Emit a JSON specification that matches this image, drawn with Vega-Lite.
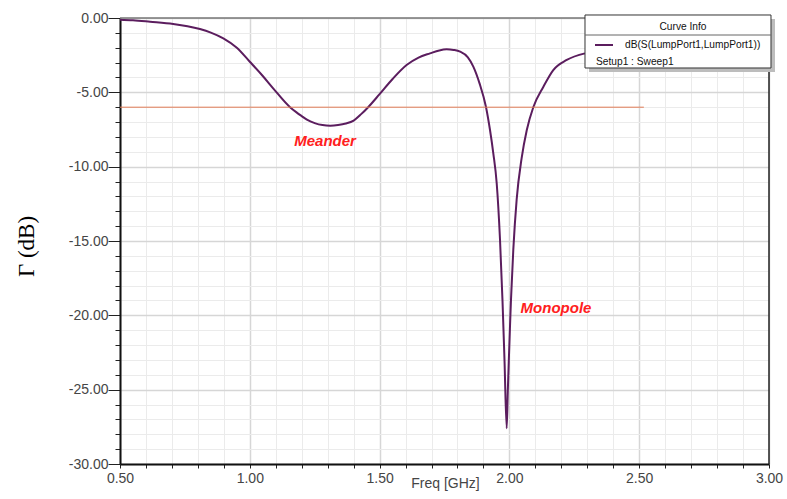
{
  "$schema": "https://vega.github.io/schema/vega-lite/v6.json",
  "width": 649,
  "height": 446,
  "autosize": {"type": "none"},
  "padding": {"left": 120, "top": 18, "right": 18, "bottom": 35},
  "background": "white",
  "config": {"view": {"stroke": null}, "font": "Liberation Sans"},
  "resolve": {"axis": {"x": "independent", "y": "independent"}},
  "datasets": {
    "s11": [
      {"freq_ghz": 0.50, "gamma_db": -0.11},
      {"freq_ghz": 0.55, "gamma_db": -0.15},
      {"freq_ghz": 0.616, "gamma_db": -0.25},
      {"freq_ghz": 0.705, "gamma_db": -0.40},
      {"freq_ghz": 0.76, "gamma_db": -0.55},
      {"freq_ghz": 0.808, "gamma_db": -0.74},
      {"freq_ghz": 0.85, "gamma_db": -0.98},
      {"freq_ghz": 0.898, "gamma_db": -1.37},
      {"freq_ghz": 0.95, "gamma_db": -2.0},
      {"freq_ghz": 1.00, "gamma_db": -2.94},
      {"freq_ghz": 1.05, "gamma_db": -3.9},
      {"freq_ghz": 1.09, "gamma_db": -4.73},
      {"freq_ghz": 1.155, "gamma_db": -6.0},
      {"freq_ghz": 1.18, "gamma_db": -6.35},
      {"freq_ghz": 1.20, "gamma_db": -6.6},
      {"freq_ghz": 1.22, "gamma_db": -6.84},
      {"freq_ghz": 1.25, "gamma_db": -7.07},
      {"freq_ghz": 1.28, "gamma_db": -7.2},
      {"freq_ghz": 1.31, "gamma_db": -7.24},
      {"freq_ghz": 1.34, "gamma_db": -7.2},
      {"freq_ghz": 1.37, "gamma_db": -7.1},
      {"freq_ghz": 1.40, "gamma_db": -6.9},
      {"freq_ghz": 1.43, "gamma_db": -6.45},
      {"freq_ghz": 1.456, "gamma_db": -6.0},
      {"freq_ghz": 1.50, "gamma_db": -5.12},
      {"freq_ghz": 1.55, "gamma_db": -4.1},
      {"freq_ghz": 1.604, "gamma_db": -3.16},
      {"freq_ghz": 1.65, "gamma_db": -2.66},
      {"freq_ghz": 1.694, "gamma_db": -2.38},
      {"freq_ghz": 1.73, "gamma_db": -2.18},
      {"freq_ghz": 1.758, "gamma_db": -2.11},
      {"freq_ghz": 1.785, "gamma_db": -2.15},
      {"freq_ghz": 1.81, "gamma_db": -2.26},
      {"freq_ghz": 1.84, "gamma_db": -2.65},
      {"freq_ghz": 1.861, "gamma_db": -3.27},
      {"freq_ghz": 1.885, "gamma_db": -4.4},
      {"freq_ghz": 1.910, "gamma_db": -6.0},
      {"freq_ghz": 1.925, "gamma_db": -7.5},
      {"freq_ghz": 1.938, "gamma_db": -9.1},
      {"freq_ghz": 1.951, "gamma_db": -11.1},
      {"freq_ghz": 1.9638, "gamma_db": -14.9},
      {"freq_ghz": 1.9734, "gamma_db": -19.0},
      {"freq_ghz": 1.9811, "gamma_db": -23.0},
      {"freq_ghz": 1.9896, "gamma_db": -27.6},
      {"freq_ghz": 1.994, "gamma_db": -25.0},
      {"freq_ghz": 1.998, "gamma_db": -22.9},
      {"freq_ghz": 2.002, "gamma_db": -20.9},
      {"freq_ghz": 2.006, "gamma_db": -19.0},
      {"freq_ghz": 2.015, "gamma_db": -15.6},
      {"freq_ghz": 2.028, "gamma_db": -12.2},
      {"freq_ghz": 2.047, "gamma_db": -9.44},
      {"freq_ghz": 2.067, "gamma_db": -7.53},
      {"freq_ghz": 2.092, "gamma_db": -6.0},
      {"freq_ghz": 2.131, "gamma_db": -4.62},
      {"freq_ghz": 2.169, "gamma_db": -3.50},
      {"freq_ghz": 2.221, "gamma_db": -2.82},
      {"freq_ghz": 2.291, "gamma_db": -2.38}
    ]
  },
  "layer": [
    {
      "data": {"name": "s11"},
      "mark": {"type": "line", "color": "#5b1d5e", "strokeWidth": 2, "interpolate": "monotone"},
      "encoding": {
        "x": {
          "field": "freq_ghz",
          "type": "quantitative",
          "scale": {"domain": [0.5, 3.0], "nice": false, "zero": false},
          "axis": {
            "values": [0.5, 0.6, 0.7, 0.8, 0.9, 1.0, 1.1, 1.2, 1.3, 1.4, 1.5, 1.6, 1.7, 1.8, 1.9, 2.0, 2.1, 2.2, 2.3, 2.4, 2.5, 2.6, 2.7, 2.8, 2.9, 3.0],
            "labelExpr": "abs(datum.value*2 - round(datum.value*2)) < 0.001 ? format(datum.value, '.2f') : ''",
            "labelFlush": false,
            "labelOverlap": false,
            "labelFont": "Liberation Sans",
            "labelFontSize": 14,
            "labelColor": "#454545",
            "labelPadding": 3,
            "tickSize": 4,
            "tickColor": "#222222",
            "domainColor": "#111111",
            "domainWidth": 2,
            "gridColor": {"condition": {"test": "abs(datum.value*2 - round(datum.value*2)) < 0.001", "value": "#d6d6d6"}, "value": "#ebebeb"},
            "gridWidth": {"condition": {"test": "abs(datum.value*2 - round(datum.value*2)) < 0.001", "value": 1.5}, "value": 1},
            "title": "Freq [GHz]",
            "titleFont": "Liberation Sans",
            "titleFontSize": 14,
            "titleFontWeight": "normal",
            "titleColor": "#454545",
            "titleX": 325,
            "titleY": 23,
            "titleAlign": "center",
            "titleBaseline": "alphabetic"
          }
        },
        "y": {
          "field": "gamma_db",
          "type": "quantitative",
          "scale": {"domain": [-30, 0], "nice": false, "zero": false},
          "axis": {
            "values": [0, -1, -2, -3, -4, -5, -6, -7, -8, -9, -10, -11, -12, -13, -14, -15, -16, -17, -18, -19, -20, -21, -22, -23, -24, -25, -26, -27, -28, -29, -30],
            "labelExpr": "datum.value % 5 == 0 ? replace(format(datum.value, '.2f'), '\u2212', '-') : ''",
            "labelOverlap": false,
            "labelFlush": false,
            "labelFont": "Liberation Sans",
            "labelFontSize": 14,
            "labelColor": "#454545",
            "labelPadding": 0,
            "tickSize": {"condition": {"test": "datum.value % 5 == 0", "value": 12}, "value": 5},
            "tickColor": "#222222",
            "domainColor": "#111111",
            "domainWidth": 2,
            "gridColor": {"condition": {"test": "datum.value % 5 == 0", "value": "#d6d6d6"}, "value": "#ebebeb"},
            "gridWidth": {"condition": {"test": "datum.value % 5 == 0", "value": 1.5}, "value": 1},
            "title": "Γ (dB)",
            "titleFont": "Liberation Serif",
            "titleFontSize": 23,
            "titleFontWeight": "normal",
            "titleColor": "#000000",
            "titleAngle": -90,
            "titleX": -94,
            "titleY": 228,
            "titleAlign": "center",
            "titleBaseline": "middle"
          }
        }
      }
    },
    {
      "data": {"values": [{}]},
      "mark": {"type": "rule", "color": "#e07a55", "strokeWidth": 1},
      "encoding": {"y": {"datum": -6, "axis": null}, "x": {"datum": 0.5, "axis": null}, "x2": {"datum": 2.518}}
    },
    {
      "data": {"values": [{}]},
      "mark": {"type": "rule", "color": "#777777", "strokeWidth": 1.5},
      "encoding": {"y": {"datum": 0, "axis": null}, "x": {"datum": 0.5, "axis": null}, "x2": {"datum": 3.0}}
    },
    {
      "data": {"values": [{}]},
      "mark": {"type": "rule", "color": "#222222", "strokeWidth": 1.5},
      "encoding": {"x": {"datum": 3.0, "axis": null}, "y": {"datum": 0, "axis": null}, "y2": {"datum": -30}}
    },
    {
      "data": {"values": [{}]},
      "mark": {"type": "text", "text": "Meander", "font": "Liberation Sans", "fontSize": 15, "fontWeight": "bold", "fontStyle": "italic", "color": "#ff2020", "align": "center", "baseline": "alphabetic"},
      "encoding": {"x": {"datum": 1.29, "axis": null}, "y": {"datum": -8.59, "axis": null}}
    },
    {
      "data": {"values": [{}]},
      "mark": {"type": "text", "text": "Monopole", "font": "Liberation Sans", "fontSize": 15, "fontWeight": "bold", "fontStyle": "italic", "color": "#ff2020", "align": "center", "baseline": "alphabetic"},
      "encoding": {"x": {"datum": 2.1795, "axis": null}, "y": {"datum": -19.87, "axis": null}}
    },
    {
      "data": {"values": [{}]},
      "mark": {"type": "rect", "color": "#bdbdbd"},
      "encoding": {"x": {"datum": 2.3066, "axis": null}, "x2": {"datum": 3.0231}, "y": {"datum": -0.067, "axis": null}, "y2": {"datum": -3.632}}
    },
    {
      "data": {"values": [{}]},
      "mark": {"type": "rect", "fill": "#ffffff", "stroke": "#333333", "strokeWidth": 1},
      "encoding": {"x": {"datum": 2.2912, "axis": null}, "x2": {"datum": 3.0077}, "y": {"datum": 0.2018, "axis": null}, "y2": {"datum": -3.363}}
    },
    {
      "data": {"values": [{}]},
      "mark": {"type": "rule", "color": "#666666", "strokeWidth": 1},
      "encoding": {"y": {"datum": -1.1435, "axis": null}, "x": {"datum": 2.2912, "axis": null}, "x2": {"datum": 3.0077}}
    },
    {
      "data": {"values": [{}]},
      "mark": {"type": "text", "text": "Curve Info", "font": "Liberation Sans", "fontSize": 10.2, "color": "#111111", "align": "center", "baseline": "middle"},
      "encoding": {"x": {"datum": 2.6687, "axis": null}, "y": {"datum": -0.585, "axis": null}}
    },
    {
      "data": {"values": [{}]},
      "mark": {"type": "rule", "color": "#5b1d5e", "strokeWidth": 2},
      "encoding": {"y": {"datum": -1.816, "axis": null}, "x": {"datum": 2.3297, "axis": null}, "x2": {"datum": 2.399}}
    },
    {
      "data": {"values": [{}]},
      "mark": {"type": "text", "text": "dB(S(LumpPort1,LumpPort1))", "font": "Liberation Sans", "fontSize": 10.2, "color": "#111111", "align": "left", "baseline": "middle"},
      "encoding": {"x": {"datum": 2.4453, "axis": null}, "y": {"datum": -1.816, "axis": null}}
    },
    {
      "data": {"values": [{}]},
      "mark": {"type": "text", "text": "Setup1 : Sweep1", "font": "Liberation Sans", "fontSize": 10.2, "color": "#111111", "align": "left", "baseline": "middle"},
      "encoding": {"x": {"datum": 2.3336, "axis": null}, "y": {"datum": -2.94, "axis": null}}
    }
  ]
}
